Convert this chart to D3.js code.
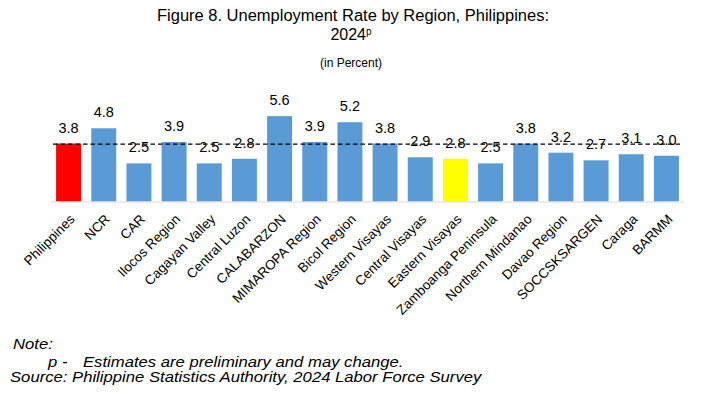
<!DOCTYPE html>
<html>
<head>
<meta charset="utf-8">
<script src="https://cdn.jsdelivr.net/npm/d3@7"></script>
<style>
  body { margin: 0; background: #fff; }
  text { font-family: "Liberation Sans", Arial, sans-serif; fill: #000; }
</style>
</head>
<body>
<div id="chart"></div>
<script>
let regions = ["Philippines", "NCR", "CAR", "Ilocos Region", "Cagayan Valley", "Central Luzon",
    "CALABARZON", "MIMAROPA Region", "Bicol Region", "Western Visayas", "Central Visayas",
    "Eastern Visayas", "Zamboanga Peninsula", "Northern Mindanao", "Davao Region",
    "SOCCSKSARGEN", "Caraga", "BARMM"]
let rates = [3.8, 4.8, 2.5, 3.9, 2.5, 2.8, 5.6, 3.9, 5.2, 3.8, 2.9, 2.8, 2.5, 3.8, 3.2, 2.7, 3.1, 3.0]
let nationalRate = 3.8

let width = 703
let height = 398
let baseline = 201.5

let data = regions.map(function (r, i) { return {region: r, rate: rates[i]} })

let svg = d3.select("#chart")
    .append("svg")
    .attr("width", width)
    .attr("height", height)

let xScale = d3.scaleBand()
    .domain(regions)
    .range([51, 684])
    .paddingInner(0.29)
    .paddingOuter(0.145)

let yScale = d3.scaleLinear()
    .domain([0, 6])
    .range([baseline, baseline - 91.5])

function barColor(d) {
    if (d.region == "Philippines") return "#FF0000"
    if (d.region == "Eastern Visayas") return "#FFFF00"
    return "#5B9BD5"
}

// bars
svg.append("g")
    .selectAll("rect")
    .data(data)
    .enter()
    .append("rect")
    .attr("x", function (d) { return xScale(d.region) })
    .attr("y", function (d) { return yScale(d.rate) })
    .attr("width", xScale.bandwidth())
    .attr("height", function (d) { return baseline - yScale(d.rate) })
    .attr("fill", barColor)

// category axis line
svg.append("line")
    .attr("x1", 51)
    .attr("x2", 684)
    .attr("y1", baseline + 0.5)
    .attr("y2", baseline + 0.5)
    .attr("stroke", "#D9D9D9")
    .attr("stroke-width", 1)

// national average line
svg.append("line")
    .attr("x1", 53)
    .attr("x2", 682)
    .attr("y1", yScale(nationalRate) + 0.5)
    .attr("y2", yScale(nationalRate) + 0.5)
    .attr("stroke", "#000")
    .attr("stroke-width", 1.3)
    .attr("stroke-dasharray", "4.5,3")

// value labels
svg.append("g")
    .selectAll("text")
    .data(data)
    .enter()
    .append("text")
    .attr("x", function (d) { return xScale(d.region) + xScale.bandwidth() / 2 })
    .attr("y", function (d) { return yScale(d.rate) - 11 })
    .attr("text-anchor", "middle")
    .style("font-size", "14.5px")
    .text(function (d) { return d.rate.toFixed(1) })

// category labels
svg.append("g")
    .selectAll("text")
    .data(data)
    .enter()
    .append("text")
    .attr("transform", function (d) {
        let cx = xScale(d.region) + xScale.bandwidth() / 2
        return "translate(" + (cx + 7) + "," + 220 + ") rotate(-45)"
    })
    .attr("text-anchor", "end")
    .style("font-size", "13.5px")
    .text(function (d) { return d.region })

// titles
svg.append("text")
    .attr("x", 353)
    .attr("y", 20.5)
    .attr("text-anchor", "middle")
    .style("font-size", "16px")
    .attr("textLength", 392)
    .attr("lengthAdjust", "spacingAndGlyphs")
    .text("Figure 8. Unemployment Rate by Region, Philippines:")

let line2 = svg.append("text")
    .attr("x", 351)
    .attr("y", 40)
    .attr("text-anchor", "middle")
    .style("font-size", "16px")
line2.append("tspan").text("2024")
line2.append("tspan")
    .attr("dy", -5)
    .style("font-size", "10px")
    .text("p")

svg.append("text")
    .attr("x", 351)
    .attr("y", 66.5)
    .attr("text-anchor", "middle")
    .style("font-size", "12px")
    .text("(in Percent)")

// notes (the source text is a bit wider than plain Arial, so stretch it)
let notes = [
    {text: "Note:", x: 13, y: 348.5},
    {text: "p -", x: 48, y: 367},
    {text: "Estimates are preliminary and may change.", x: 83, y: 367},
    {text: "Source: Philippine Statistics Authority, 2024 Labor Force Survey", x: 10, y: 381.5}
]

svg.append("g")
    .selectAll("text")
    .data(notes)
    .enter()
    .append("text")
    .attr("x", function (d) { return d.x })
    .attr("y", function (d) { return d.y })
    .style("font-size", "14px")
    .style("font-style", "italic")
    .text(function (d) { return d.text })
    .each(function () {
        let w = this.getComputedTextLength()
        d3.select(this)
            .attr("textLength", w * 1.19)
            .attr("lengthAdjust", "spacingAndGlyphs")
    })
</script>
</body>
</html>
